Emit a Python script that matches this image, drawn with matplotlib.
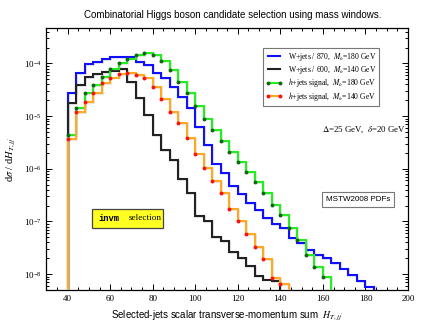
import numpy as np
from matplotlib import pyplot as plt
from matplotlib import patheffects as pe
from matplotlib.patches import Rectangle
from matplotlib.ticker import MultipleLocator, LogLocator

plt.rcParams['font.family'] = 'Liberation Serif'
plt.rcParams['mathtext.fontset'] = 'stix'

# histogram bins of 4 GeV starting at 40 GeV
bin_start = 40
bin_width = 4

# W+jets / 870, M_h = 180 GeV
w_180 = [2.7e-5, 6.5e-5, 9.7e-5, 1.07e-4, 1.19e-4, 1.33e-4, 1.33e-4, 1.3e-4,
         1.07e-4, 9.3e-5, 6.5e-5, 5.2e-5, 3.6e-5, 2.26e-5, 1.4e-5, 6.3e-6,
         2.8e-6, 1.26e-6, 8.2e-7, 4.7e-7, 3.3e-7, 2.26e-7, 1.65e-7, 1.15e-7,
         9.0e-8, 7.6e-8, 4.8e-8, 3.9e-8, 2.9e-8, 2.3e-8, 2.0e-8, 1.6e-8,
         1.28e-8, 9.6e-9, 7.3e-9, 5.8e-9]
# W+jets / 600, M_h = 140 GeV
w_140 = [1.74e-5, 3.9e-5, 5.5e-5, 6.3e-5, 6.8e-5, 7.3e-5, 7.9e-5, 4.4e-5,
         2.2e-5, 1.05e-5, 4.4e-6, 2.27e-6, 1.46e-6, 6.4e-7, 3.5e-7, 1.25e-7,
         1.03e-7, 5.0e-8, 4.3e-8, 2.66e-8, 2.0e-8, 1.4e-8, 9.2e-9, 7.9e-9,
         7.3e-9]
# h+jets signal, M_h = 180 GeV
h_180 = [4.4e-6, 1.4e-5, 2.7e-5, 3.9e-5, 5.6e-5, 7.7e-5, 1.03e-4, 1.24e-4,
         1.44e-4, 1.55e-4, 1.44e-4, 1.12e-4, 7.5e-5, 4.5e-5, 2.77e-5, 1.55e-5,
         9.0e-6, 5.4e-6, 3.4e-6, 2.1e-6, 1.36e-6, 8.8e-7, 5.5e-7, 3.4e-7,
         2.1e-7, 1.32e-7, 7.4e-8, 4.4e-8, 2.3e-8, 1.35e-8, 8.9e-9]
# h+jets signal, M_h = 140 GeV
h_140 = [3.7e-6, 1.2e-5, 1.86e-5, 2.77e-5, 4.2e-5, 5.4e-5, 6.2e-5, 6.5e-5,
         6.0e-5, 5.4e-5, 3.6e-5, 2.08e-5, 1.21e-5, 7.3e-6, 3.8e-6, 1.95e-6,
         1.02e-6, 5.9e-7, 3.5e-7, 1.72e-7, 1.03e-7, 5.7e-8, 3.3e-8, 1.9e-8,
         8.3e-9, 6.5e-9]

labels = [r'W+jets / 870,  $M_h$=180 GeV',
          r'W+jets / 600,  $M_h$=140 GeV',
          r'$h$+jets signal,  $M_h$=180 GeV',
          r'$h$+jets signal,  $M_h$=140 GeV']

col_blue = '#1010ff'
col_black = '#222222'
col_green = '#22ee22'
col_orange = '#ffaa22'

shadow = [pe.SimpleLineShadow(offset=(0.6, -0.6), shadow_color='gray', alpha=0.18), pe.Normal()]

fig = plt.figure(figsize=(4.27, 3.30), dpi=100)
ax = fig.add_axes([0.1087, 0.1212, 0.8468, 0.7938])

series = [(w_180, col_blue, None),
          (w_140, col_black, None),
          (h_180, col_green, '#116611'),
          (h_140, col_orange, '#ff1010')]

lw = 1.5
handles = []
for (vals, col, mcol), lab in zip(series, labels):
    vals = np.array(vals)
    edges = bin_start + bin_width * np.arange(len(vals) + 1)
    ax.stairs(vals, edges, baseline=1e-15, color=col, lw=lw, path_effects=shadow, zorder=3)
    if mcol is not None:
        ax.plot(edges[:-1], vals, 'o', color=mcol, ms=1.8, zorder=4)
        h, = ax.plot([], [], '-', color=col, lw=lw, marker='o', ms=1.8, mfc=mcol, mec=mcol)
    else:
        h, = ax.plot([], [], '-', color=col, lw=lw)
    handles.append(h)

ax.set_yscale('log')
ax.set_xlim(30, 200)
ax.set_ylim(5e-9, 4.7e-4)

ax.xaxis.set_major_locator(MultipleLocator(20))
ax.xaxis.set_minor_locator(MultipleLocator(5))
ax.yaxis.set_major_locator(LogLocator(base=10, numticks=20))
ax.yaxis.set_minor_locator(LogLocator(base=10, subs=np.arange(2, 10), numticks=20))
ax.tick_params(which='both', direction='in', top=True, right=True, labelsize=6.5, width=0.7)
ax.tick_params(which='major', length=4.5)
ax.tick_params(which='minor', length=2.5)
for s in ax.spines.values():
    s.set_linewidth(0.9)

ax.set_xlabel(r'Selected-jets scalar transverse-momentum sum  $H_{T,jj^{\prime}}$',
              fontfamily='Liberation Sans', fontsize=7)
ax.set_ylabel(r'd$\sigma$ / d$H_{T,jj^{\prime}}$', fontsize=7.5, labelpad=4)
fig.text(0.545, 0.955, 'Combinatorial Higgs boson candidate selection using mass windows.',
         ha='center', va='center', fontfamily='Liberation Sans', fontsize=7)

leg = ax.legend(handles, labels, loc='upper left', bbox_to_anchor=(0.599, 0.922),
                fontsize=5.5, numpoints=2, handlelength=2.2, handletextpad=0.7,
                labelspacing=0.08, borderpad=0.35, borderaxespad=0, fancybox=False,
                shadow=False, framealpha=1, edgecolor='#777777')
leg.get_frame().set_linewidth(0.8)

ax.text(0.878, 0.61, r'$\Delta$=25 GeV,  $\delta$=20 GeV', transform=ax.transAxes,
        ha='center', va='center', fontsize=6.3)
ax.text(0.862, 0.347, 'MSTW2008 PDFs', transform=ax.transAxes, ha='center', va='center',
        fontfamily='Liberation Sans', fontsize=5.8,
        bbox=dict(boxstyle='square,pad=0.5', fc='white', ec='#777777', lw=0.8))

ax.add_patch(Rectangle((0.126, 0.237), 0.197, 0.072, transform=ax.transAxes,
                       fc='#ffff22', ec='#444444', lw=0.9, zorder=5))
ax.text(0.143, 0.273, 'invm', transform=ax.transAxes, ha='left', va='center',
        fontfamily='Liberation Mono', fontweight='bold', fontsize=6.3, zorder=6)
ax.text(0.227, 0.273, 'selection', transform=ax.transAxes, ha='left', va='center',
        fontsize=6.6, zorder=6)

fig.savefig('out.png', dpi=100)
